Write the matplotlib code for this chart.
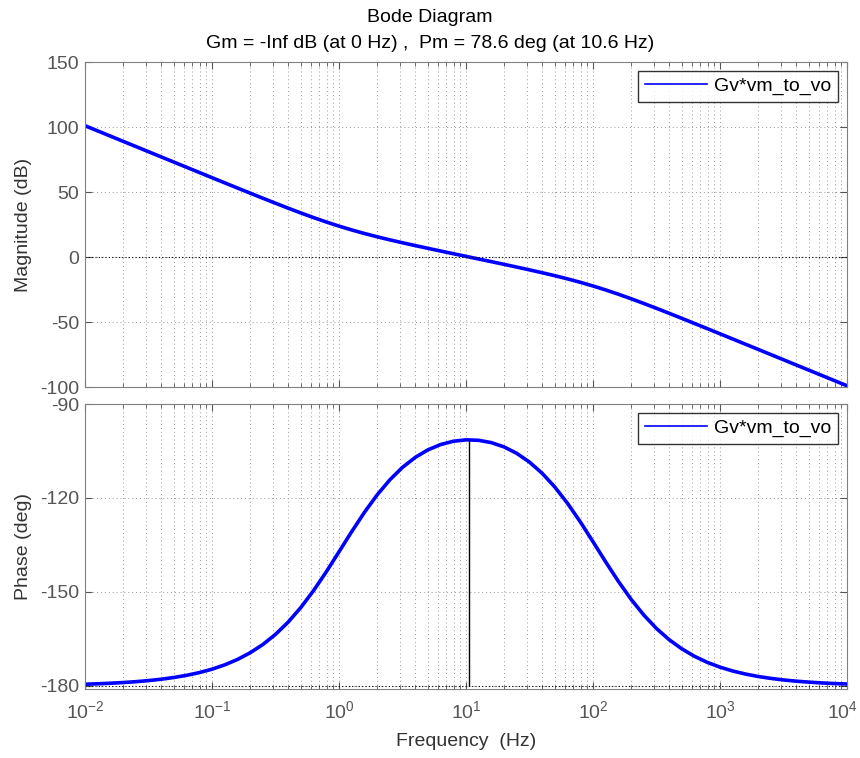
import numpy as np
import matplotlib
matplotlib.use("Agg")
import matplotlib.pyplot as plt
import matplotlib.transforms as mtransforms
from matplotlib.ticker import FixedLocator, LogLocator, NullFormatter

plt.rcParams['font.family'] = ['Liberation Sans', 'DejaVu Sans']
plt.rcParams['mathtext.fontset'] = 'custom'
plt.rcParams['mathtext.rm'] = 'Liberation Sans'
plt.rcParams['mathtext.it'] = 'Liberation Sans'
plt.rcParams['mathtext.default'] = 'regular'
plt.rcParams['axes.unicode_minus'] = False

# frequency points (Hz), 10 per decade
freq = [0.01, 0.012589, 0.015849, 0.019953, 0.025119, 0.031623, 0.039811, 0.050119, 0.063096, 0.079433,
        0.1, 0.12589, 0.15849, 0.19953, 0.25119, 0.31623, 0.39811, 0.50119, 0.63096, 0.79433,
        1.0, 1.2589, 1.5849, 1.9953, 2.5119, 3.1623, 3.9811, 5.0119, 6.3096, 7.9433,
        10.0, 12.589, 15.849, 19.953, 25.119, 31.623, 39.811, 50.119, 63.096, 79.433,
        100.0, 125.89, 158.49, 199.53, 251.19, 316.23, 398.11, 501.19, 630.96, 794.33,
        1000.0, 1258.9, 1584.9, 1995.3, 2511.9, 3162.3, 3981.1, 5011.9, 6309.6, 7943.3,
        10000.0]
mag_db = [101.0, 97.01, 93.01, 89.01, 85.01, 81.01, 77.01, 73.02, 69.03, 65.03,
          61.05, 57.07, 53.11, 49.16, 45.25, 41.38, 37.58, 33.89, 30.33, 26.95,
          23.78, 20.83, 18.11, 15.58, 13.22, 10.97, 8.81, 6.70, 4.63, 2.56,
          0.52, -1.53, -3.57, -5.64, -7.73, -9.87, -12.07, -14.37, -16.81, -19.43,
          -22.26, -25.32, -28.60, -32.07, -35.71, -39.45, -43.29, -47.18, -51.12, -55.07,
          -59.05, -63.02, -67.02, -71.00, -75.00, -79.0, -83.0, -87.0, -91.0, -95.0,
          -99.0]
phase_deg = [-179.47, -179.33, -179.15, -178.93, -178.66, -178.31, -177.87, -177.32, -176.63, -175.76,
             -174.67, -173.29, -171.58, -169.44, -166.81, -163.56, -159.64, -154.96, -149.58, -143.59,
             -137.21, -130.77, -124.63, -119.05, -114.24, -110.24, -107.06, -104.65, -102.95, -101.89,
             -101.44, -101.59, -102.33, -103.70, -105.75, -108.54, -112.11, -116.52, -121.72, -127.60,
             -133.94, -140.39, -146.61, -152.33, -157.36, -161.66, -165.24, -168.18, -170.56, -172.48,
             -174.01, -175.24, -176.21, -176.99, -177.60, -178.10, -178.49, -178.80, -179.05, -179.25,
             -179.40]
pm_freq = 10.6
pm_phase = -101.4
label = 'Gv*vm_to_vo'
xticks = [1e-2, 1e-1, 1e0, 1e1, 1e2, 1e3, 1e4]

fs = 14
tick_grey = '#555555'
fig = plt.figure(figsize=(8.6, 7.58), dpi=100)
ax1 = fig.add_axes([0.0988, 0.4894, 0.886, 0.4288])
ax2 = fig.add_axes([0.0988, 0.0910, 0.886, 0.3760])

def style(ax):
    ax.set_xscale('log')
    ax.set_xlim(1e-2, 1e4)
    ax.xaxis.set_major_locator(FixedLocator(xticks))
    ax.xaxis.set_minor_locator(LogLocator(base=10, subs=np.arange(2, 10), numticks=20))
    ax.xaxis.set_minor_formatter(NullFormatter())
    ax.grid(True, which='major', color='#999999', linestyle=(0, (1, 3)), linewidth=0.7)
    ax.grid(True, which='minor', axis='x', color='#999999', linestyle=(0, (1, 3)), linewidth=0.7)
    ax.tick_params(which='both', direction='in', top=True, right=True, colors=tick_grey, labelsize=fs)
    ax.tick_params(which='major', length=5)
    ax.tick_params(which='minor', length=3)
    ax.tick_params(axis='y', pad=4)
    ax.tick_params(axis='x', pad=8)
    for s in ax.spines.values():
        s.set_color('#808080')

def add_legend(ax):
    leg = ax.legend(loc='upper right', fontsize=fs, frameon=True, fancybox=False,
                    handlelength=3.2, handletextpad=0.35, borderpad=0.35,
                    borderaxespad=0.45)
    leg.get_frame().set_edgecolor('black')
    leg.get_frame().set_linewidth(1.0)
    for h in leg.get_lines():
        h.set_linewidth(1.2)
    return leg

style(ax1)
ax1.plot(freq, mag_db, color='#0000ff', lw=2.6, label=label)
ax1.axhline(0, color='black', linestyle=(0, (1, 2)), lw=0.8)
ax1.set_ylim(-100, 150)
ax1.set_yticks([-100, -50, 0, 50, 100, 150])
ax1.tick_params(labelbottom=False)
ax1.set_ylabel('Magnitude (dB)', fontsize=fs, color='#333333', labelpad=6)
add_legend(ax1)

style(ax2)
ax2.plot(freq, phase_deg, color='#0000ff', lw=2.6, label=label)
ax2.axhline(-180, color='black', linestyle=(0, (1, 2)), lw=0.8)
ax2.vlines(pm_freq, -180, pm_phase, color='black', lw=1.0)
ax2.set_ylim(-181, -90)
ax2.set_yticks([-180, -150, -120, -90])
ax2.set_ylabel('Phase (deg)', fontsize=fs, color='#333333', labelpad=6)
ax2.set_xlabel('Frequency  (Hz)', fontsize=fs, color='#333333', labelpad=8)
add_legend(ax2)

# keep the 10^4 label just inside the right edge
last = ax2.get_xticklabels()[-1]
last.set_transform(last.get_transform() + mtransforms.ScaledTranslation(-4 / 100, 0, fig.dpi_scale_trans))

fig.text(0.5, 1 - 17 / 758, 'Bode Diagram', ha='center', va='center', fontsize=fs)
fig.text(0.5, 1 - 43 / 758, 'Gm = -Inf dB (at 0 Hz) ,  Pm = 78.6 deg (at 10.6 Hz)',
         ha='center', va='center', fontsize=fs)

fig.savefig('out.png', dpi=100)
